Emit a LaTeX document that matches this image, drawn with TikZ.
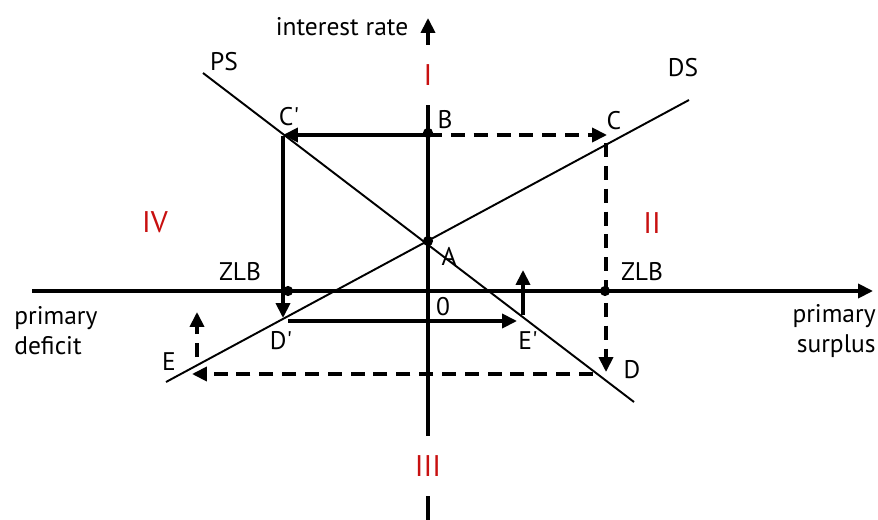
\documentclass[tikz,border=0pt]{standalone}
\usepackage{fontspec}
\setmainfont{PT Sans}
\usetikzlibrary{arrows.meta}
\definecolor{qred}{RGB}{200,16,16}
\begin{document}
\begin{tikzpicture}[x=0.02cm,y=-0.02cm,
  axis/.style={line width=2pt},
  curve/.style={line width=1.1pt},
  tip/.style={-{Triangle[length=8.5pt,width=8pt]}},
  move/.style={line width=2pt,tip},
  dmove/.style={move,dash pattern=on 8pt off 5pt},
  lab/.style={font=\fontsize{14.5}{17}\selectfont,inner sep=0pt},
  quad/.style={font=\fontsize{17}{18}\selectfont,text=qred,fill=white,inner sep=0pt},
  dot/.style={circle,fill,inner sep=0pt,minimum size=5.8pt}]
\useasboundingbox (0,0) rectangle (878,520);
% axes
\coordinate (ybot) at (428,522);
\coordinate (ytop) at (428,18);
\coordinate (xl) at (32,291);
\coordinate (xr) at (873,291);
\draw[axis,tip] (xl) -- (xr);
\draw[axis,tip] (ybot) -- (ytop);
% curves
\coordinate (ps1) at (203,73);
\coordinate (ps2) at (634,402);
\coordinate (ds1) at (166,382);
\coordinate (ds2) at (689,100);
\draw[curve] (ps1) -- (ps2);
\draw[curve] (ds1) -- (ds2);
% quadrant labels
\node[quad,minimum height=34pt,minimum width=8pt] (qI) at (428,75) {I};
\node[quad] (qII) at (652,223) {II};
\node[quad,minimum height=34pt,minimum width=14pt] (qIII) at (428,466) {III};
\node[quad] (qIV) at (155,222) {IV};
% points
\coordinate (B) at (428,135);
\coordinate (Cp) at (283,135);
\coordinate (Cpt) at (283,136);
\coordinate (C) at (607,135);
\coordinate (Ct) at (606,143);
\coordinate (Dp) at (283,318);
\coordinate (Dps) at (288,321);
\coordinate (Ep) at (517,321);
\coordinate (Eup1) at (523,315);
\coordinate (Eup2) at (523,270);
\coordinate (D) at (606,372);
\coordinate (Ds) at (593,374);
\coordinate (E) at (192,374);
\coordinate (Eu1) at (197,357);
\coordinate (Eu2) at (197,312);
% movements
\draw[move] (B) -- (Cp);
\draw[dmove] (B) -- (C);
\draw[move] (Cpt) -- (Dp);
\draw[dmove] (Ct) -- (D);
\draw[move] (Dps) -- (Ep);
\draw[move] (Eup1) -- (Eup2);
\draw[dmove] (Ds) -- (E);
\draw[dmove] (Eu1) -- (Eu2);
% dots
\node[dot] (dB) at (428,133) {};
\node[dot] (dA) at (428,241) {};
\node[dot] (dZ1) at (288,291) {};
\node[dot] (dZ2) at (605,291) {};
% labels
\node[lab] (lir) at (342,27) {interest rate};
\node[lab] (lPS) at (224,62) {PS};
\node[lab] (lDS) at (683,68) {DS};
\node[lab] (lCp) at (289,117) {C\textquotesingle};
\node[lab] (lB) at (445,120) {B};
\node[lab] (lC) at (614,121) {C};
\node[lab] (lA) at (449,256) {A};
\node[lab] (lZ1) at (240,272) {ZLB};
\node[lab] (lZ2) at (642,272) {ZLB};
\node[lab] (l0) at (443,307) {0};
\node[lab] (lDp) at (281,341) {D\textquotesingle};
\node[lab] (lEp) at (528,341) {E\textquotesingle};
\node[lab] (lE) at (169,362) {E};
\node[lab] (lD) at (632,370) {D};
\node[lab,align=left,anchor=west] (lpd) at (14,331) {primary\\deficit};
\node[lab,align=right,anchor=east] (lps) at (876,331) {primary\\surplus};
\end{tikzpicture}
\end{document}
